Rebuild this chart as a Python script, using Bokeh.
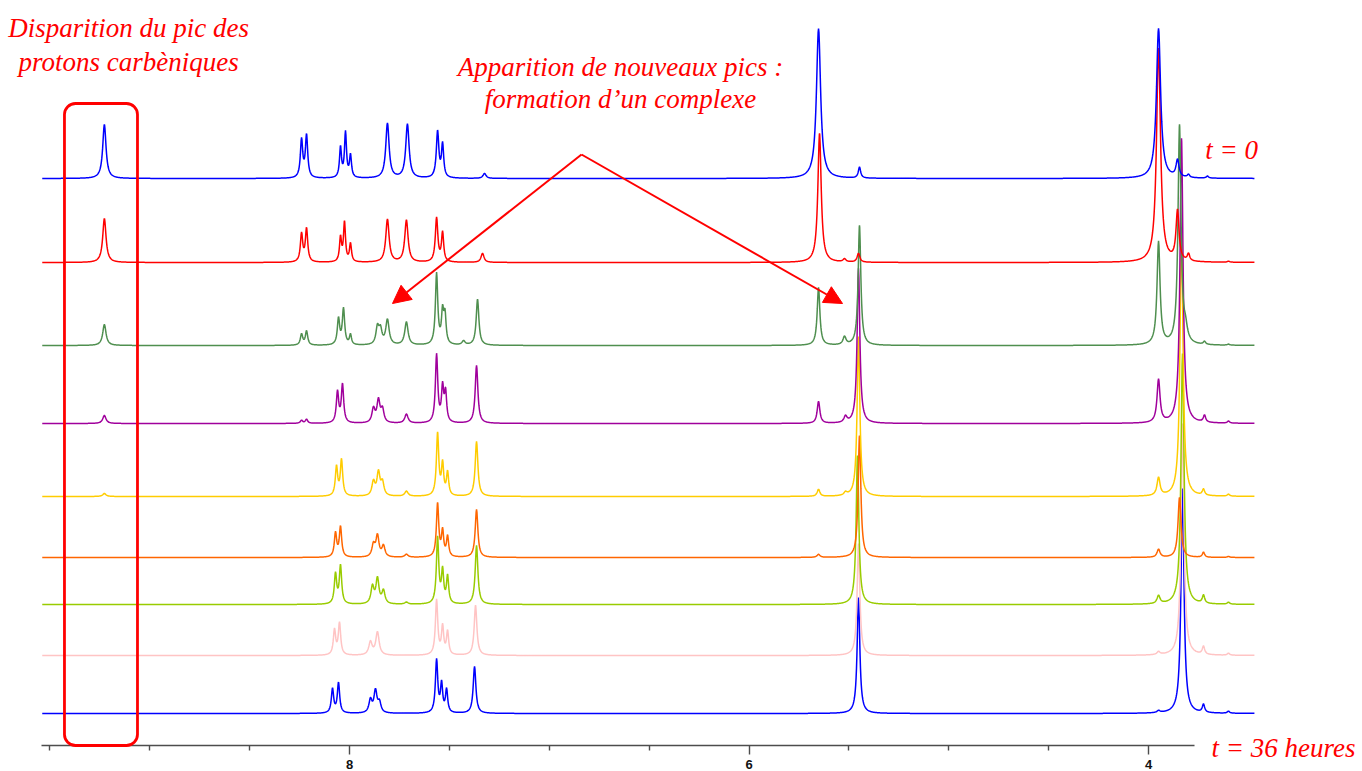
import numpy as np
from bokeh.plotting import figure
from bokeh.models import Range1d, FixedTicker, BoxAnnotation, Arrow, NormalHead, Label
from bokeh.embed import file_html
from bokeh.resources import INLINE

# ---------------- data ----------------
# Each spectrum: peak positions (ppm), apparent heights, half-widths (ppm)
s1_ppm = [9.227, 8.240, 8.215, 8.045, 8.020, 7.995, 7.810, 7.710, 7.559, 7.534, 7.324, 5.652, 5.447, 3.950, 3.855, 3.800, 3.705]
s1_h   = [54, 38, 42, 30, 45, 22, 55, 54, 46, 33, 5, 150, 11, 150, 17, 3, 2]
s1_w   = [0.010, 0.007, 0.007, 0.006, 0.006, 0.006, 0.010, 0.010, 0.0075, 0.0065, 0.009, 0.0125, 0.007, 0.0125, 0.009, 0.007, 0.007]

s2_ppm = [9.227, 8.240, 8.215, 8.045, 8.025, 7.995, 7.810, 7.715, 7.564, 7.534, 7.334, 5.647, 5.522, 5.452, 3.950, 3.855, 3.800, 3.600]
s2_h   = [44, 28, 33, 24, 39, 18, 43, 42, 44, 29, 9, 129, 3, 9, 214, 50, 7, 1]
s2_w   = [0.010, 0.007, 0.007, 0.006, 0.006, 0.006, 0.010, 0.010, 0.0075, 0.0065, 0.009, 0.010, 0.009, 0.008, 0.012, 0.009, 0.007, 0.007]

s3_ppm = [9.227, 8.240, 8.215, 8.055, 8.030, 7.995, 7.860, 7.845, 7.810, 7.715, 7.564, 7.534, 7.522, 7.429, 7.359, 5.652, 5.522, 5.447, 3.950, 3.845, 3.815, 3.720, 3.600]
s3_h   = [21, 11, 14, 26, 36, 10, 17, 14, 25, 23, 71, 31, 28, 4, 46, 58, 8, 120, 103, 219, 12, 3, 1]
s3_w   = [0.010, 0.007, 0.007, 0.007, 0.007, 0.006, 0.009, 0.009, 0.010, 0.010, 0.007, 0.0065, 0.0065, 0.009, 0.008, 0.008, 0.009, 0.008, 0.009, 0.009, 0.011, 0.007, 0.007]

s4_ppm = [9.227, 8.240, 8.215, 8.060, 8.035, 7.880, 7.855, 7.835, 7.715, 7.564, 7.534, 7.519, 7.364, 5.652, 5.517, 5.452, 3.950, 3.835, 3.720, 3.600]
s4_h   = [8, 3, 4, 31, 38, 14, 22, 13, 9, 68, 34, 29, 58, 22, 6, 155, 43, 285, 7, 2]
s4_w   = [0.010, 0.007, 0.007, 0.007, 0.007, 0.009, 0.009, 0.009, 0.010, 0.007, 0.0065, 0.0065, 0.008, 0.008, 0.009, 0.008, 0.009, 0.009, 0.007, 0.007]

s5_ppm = [9.227, 8.065, 8.040, 7.880, 7.855, 7.835, 7.715, 7.559, 7.534, 7.509, 7.364, 5.652, 5.517, 5.452, 3.950, 3.835, 3.725, 3.600]
s5_h   = [3, 29, 36, 14, 23, 13, 5, 62, 31, 23, 55, 7, 3, 160, 18, 266, 6, 2]
s5_w   = [0.010, 0.007, 0.007, 0.009, 0.009, 0.009, 0.010, 0.007, 0.0065, 0.0065, 0.008, 0.008, 0.009, 0.008, 0.009, 0.009, 0.007, 0.007]

s6_ppm = [8.070, 8.045, 7.880, 7.860, 7.830, 7.715, 7.559, 7.534, 7.509, 7.364, 5.652, 5.447, 3.950, 3.845, 3.725, 3.600]
s6_h   = [24, 30, 12, 21, 11, 3, 53, 25, 20, 48, 3, 122, 8, 60, 5, 1]
s6_w   = [0.007, 0.007, 0.009, 0.009, 0.009, 0.010, 0.007, 0.0065, 0.0065, 0.008, 0.009, 0.008, 0.009, 0.009, 0.007, 0.007]

s7_ppm = [8.070, 8.045, 7.885, 7.860, 7.830, 7.715, 7.559, 7.534, 7.509, 7.364, 5.457, 3.950, 3.830, 3.725, 3.600]
s7_h   = [30, 38, 17, 25, 13, 2, 66, 32, 27, 59, 149, 8, 251, 8, 2]
s7_w   = [0.007, 0.007, 0.009, 0.009, 0.009, 0.010, 0.007, 0.0065, 0.0065, 0.008, 0.008, 0.009, 0.009, 0.007, 0.007]

s8_ppm = [8.075, 8.050, 7.895, 7.860, 7.564, 7.534, 7.509, 7.369, 5.452, 3.950, 3.830, 3.725, 3.600]
s8_h   = [25, 32, 13, 23, 55, 28, 23, 50, 112, 3, 232, 8, 2]
s8_w   = [0.007, 0.007, 0.010, 0.010, 0.007, 0.0065, 0.0065, 0.008, 0.008, 0.009, 0.009, 0.007, 0.007]

s9_ppm = [8.085, 8.055, 7.895, 7.870, 7.850, 7.564, 7.539, 7.514, 7.374, 5.452, 3.950, 3.830, 3.725, 3.600]
s9_h   = [24, 30, 13, 22, 10, 53, 28, 23, 47, 116, 2, 225, 8, 2]
s9_w   = [0.007, 0.007, 0.009, 0.009, 0.009, 0.007, 0.0065, 0.0065, 0.008, 0.008, 0.009, 0.009, 0.007, 0.007]

spectra = [
    (s1_ppm, s1_h, s1_w), (s2_ppm, s2_h, s2_w), (s3_ppm, s3_h, s3_w),
    (s4_ppm, s4_h, s4_w), (s5_ppm, s5_h, s5_w), (s6_ppm, s6_h, s6_w),
    (s7_ppm, s7_h, s7_w), (s8_ppm, s8_h, s8_w), (s9_ppm, s9_h, s9_w),
]

major_ticks = [8, 6, 4]
minor_ticks = [9.5, 9, 8.5, 7.5, 7, 6.5, 5.5, 5, 4.5]

# ---------------- layout / style ----------------
offsets = [567, 483, 400, 322, 249, 188, 141, 90, 32]
colors = ["#0000ff", "#ff0000", "#4f8f4f", "#a0009c", "#ffcc00",
          "#ff6600", "#99cc00", "#ffc4c4", "#0000ff"]
ppm_lo, ppm_hi = 3.47, 9.54

p = figure(width=1362, height=771,
           x_range=Range1d(9.747, 2.929), y_range=Range1d(-26, 745),
           output_backend="svg", toolbar_location=None,
           y_axis_location=None,
           min_border_left=0, min_border_right=0, min_border_top=0,
           min_border_bottom=0)
p.outline_line_color = None
p.grid.visible = False
p.background_fill_color = "white"
p.border_fill_color = "white"

all_centers = np.concatenate([np.asarray(s[0]) for s in spectra])
xs = np.union1d(np.arange(ppm_lo, ppm_hi, 0.002), all_centers)
xs = xs[(xs >= ppm_lo) & (xs <= ppm_hi)]

for (c, h, w), off, col in reversed(list(zip(spectra, offsets, colors))):
    c = np.asarray(c)[:, None]
    h = np.asarray(h, dtype=float)[:, None]
    w = np.asarray(w)[:, None]
    ys = off + (h / (1.0 + ((xs[None, :] - c) / w) ** 2)).sum(axis=0)
    p.line(xs, ys, line_color=col, line_width=1.5)

ax = p.xaxis[0]
ax.fixed_location = 0
ax.ticker = FixedTicker(ticks=major_ticks, minor_ticks=minor_ticks)
ax.bounds = (3.77, 9.54)
ax.axis_line_color = "#4d4d4d"
ax.axis_line_width = 1.6
ax.major_tick_line_color = "#4d4d4d"
ax.major_tick_line_width = 1.4
ax.minor_tick_line_color = "#4d4d4d"
ax.minor_tick_line_width = 1.4
ax.major_tick_in = 0
ax.major_tick_out = 9
ax.minor_tick_in = 0
ax.minor_tick_out = 5
ax.major_label_standoff = 5
ax.major_label_text_font = "Liberation Sans"
ax.major_label_text_font_style = "bold"
ax.major_label_text_font_size = "13px"
ax.major_label_text_color = "#111111"

# rounded box around the carbene peak
p.add_layout(BoxAnnotation(left=9.4268, right=9.0613, top=642, bottom=0,
                           fill_alpha=0, line_color="#ff0000", line_alpha=1.0,
                           line_width=2.8, border_radius=11))

# arrows
for tip_x in (7.7847, 5.5319):
    p.add_layout(Arrow(end=NormalHead(size=18, fill_color="#ff0000", line_color="#ff0000", line_width=1),
                       x_start=6.8385, y_start=591, x_end=tip_x, y_end=442,
                       line_color="#ff0000", line_width=2))

font = dict(text_font="Liberation Serif", text_font_style="italic",
            text_font_size="27px", text_color="#ff0000", text_baseline="alphabetic")
p.add_layout(Label(x=9.106, y=718, text="Disparition du pic des", text_align="center", **font))
p.add_layout(Label(x=9.106, y=684, text="protons carbèniques", text_align="center", **font))
p.add_layout(Label(x=6.643, y=679, text="Apparition de nouveaux pics :", text_align="center", **font))
p.add_layout(Label(x=6.643, y=647, text="formation d\u2019un complexe", text_align="center", **font))
p.add_layout(Label(x=3.584, y=596, text="t = 0", text_align="center", **font))
p.add_layout(Label(x=3.685, y=-2, text="t = 36 heures", text_align="left", **font))

open("out.html", "w").write(file_html(p, INLINE))
